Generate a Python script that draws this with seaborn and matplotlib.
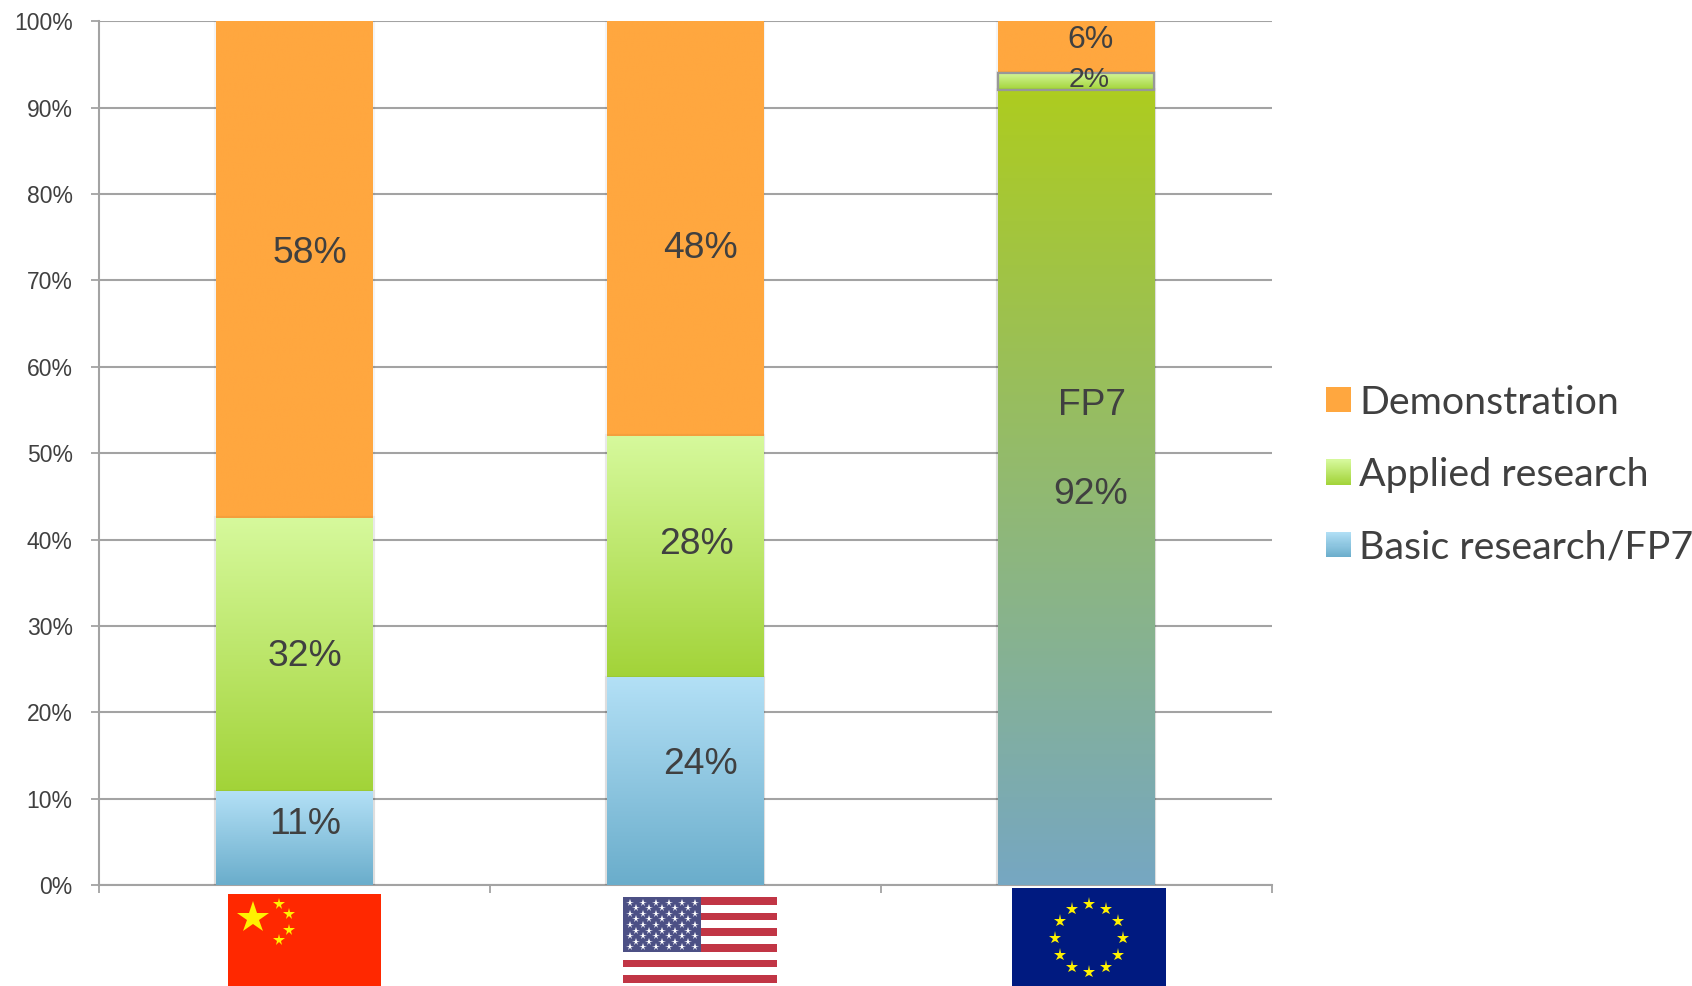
import numpy as np
import pandas as pd
import seaborn as sns
import matplotlib
matplotlib.use("Agg")
import matplotlib.pyplot as plt
import matplotlib.patheffects as pe
from matplotlib.colors import LinearSegmentedColormap, to_rgb
from matplotlib.legend_handler import HandlerBase
from matplotlib.patches import Patch, Rectangle

regions = ["China", "USA", "EU"]
basic = [10.8, 24, 92]
applied = [31.7, 28, 2]
demo = [57.5, 48, 6]
series_names = ["Basic research/FP7", "Applied research", "Demonstration"]
y_ticks = list(range(0, 101, 10))

label_texts = [["11%", "32%", "58%"], ["24%", "28%", "48%"], ["92%", "2%", "6%"]]
label_y = [[7.0, 26.5, 73.1], [13.9, 39.4, 73.75], [45.25, 93.2, 97.85]]
label_dx = [[0.027, 0.027, 0.04], [0.04, 0.03, 0.04], [0.038, 0.033, 0.038]]
label_size = [[26.8, 26.8, 26.8], [26.8, 26.8, 26.8], [26.8, 20.5, 23]]

ORANGE = ("#FFA73F", "#FFA73F")
GREEN = ("#D6F99C", "#A2D338")
BLUE = ("#B3E0F6", "#6AADCB")
EU_GRAD = ("#ADCC20", "#76A7C2")
GRAY = "#A3A3A3"
TXT = "#404040"
W, H = 1692, 986

sns.set_theme(style="white")
plt.rcParams["font.family"] = ["Liberation Sans", "DejaVu Sans"]

fig = plt.figure(figsize=(W / 100, H / 100), dpi=100, facecolor="white")
ax = fig.add_axes([99 / W, 1 - 885 / H, (1271.5 - 99) / W, (885 - 21.3) / H])

df = pd.DataFrame({"region": regions, "basic": basic, "applied": applied, "demo": demo})
df["t0"] = df["basic"]
df["t1"] = df["basic"] + df["applied"]
df["t2"] = df["t1"] + df["demo"]


def vgrad(top, bottom):
    return LinearSegmentedColormap.from_list("g", [bottom, top])


shadow = [pe.Stroke(linewidth=3.0, foreground="#000000", alpha=0.045), pe.Normal()]
layers = [("t2", "t1", ORANGE), ("t1", "t0", GREEN), ("t0", None, BLUE)]
z = 3
for top_col, low_col, grad in layers:
    before = len(ax.patches)
    sns.barplot(data=df, x="region", y=top_col, color=grad[1], width=0.4, saturation=1,
                ax=ax, zorder=z, linewidth=0)
    new = ax.patches[before:]
    for i, p in enumerate(new):
        p.set_path_effects(shadow)
        low = df[low_col].iloc[i] if low_col else 0
        g = grad
        if top_col == "t0" and regions[i] == "EU":
            g = EU_GRAD
        x0, x1 = p.get_x(), p.get_x() + p.get_width()
        ax.imshow(np.linspace(1, 0, 256)[:, None], cmap=vgrad(*g), aspect="auto",
                  extent=(x0, x1, low, p.get_height()), zorder=z + 1, interpolation="bilinear")
        if top_col == "t1" and regions[i] == "EU":
            ax.add_patch(Rectangle((x0, low), x1 - x0, p.get_height() - low, fill=False,
                                   edgecolor="#989898", linewidth=1.6, zorder=z + 8))
    z += 2

ax.set_xlim(-0.5, 2.5)
ax.set_ylim(0, 100)
ax.set_aspect("auto")
ax.set_xlabel("")
ax.set_ylabel("")
ax.set_yticks(y_ticks)
ax.set_yticklabels([f"{v}%" for v in y_ticks], fontsize=16.5, color=TXT)
ax.set_xticks([-0.5, 0.5, 1.5, 2.5])
ax.set_xticklabels([])
ax.tick_params(axis="both", length=6, width=1.3, color=GRAY, direction="out", left=True, bottom=True, pad=13)
ax.grid(axis="y", color=GRAY, linewidth=1.5, zorder=0)
ax.set_axisbelow(True)
for s in ["top", "right"]:
    ax.spines[s].set_visible(False)
for s in ["left", "bottom"]:
    ax.spines[s].set_color(GRAY)
    ax.spines[s].set_linewidth(1.5)
    ax.spines[s].set_zorder(20)
ax.spines["bottom"].set_zorder(2.5)

for i in range(3):
    for txt, y, dx, fs in zip(label_texts[i], label_y[i], label_dx[i], label_size[i]):
        ax.text(i + dx, y, txt, ha="center", va="center", fontsize=fs, color=TXT, zorder=30)
ax.text(2 + 0.04, 55.5, "FP7", ha="center", va="center", fontsize=26.8, color=TXT, zorder=30)


class GradHandler(HandlerBase):
    def create_artists(self, legend, orig, xd, yd, width, height, fontsize, trans):
        cols = orig.grad
        top, bot = np.array(to_rgb(cols[0])), np.array(to_rgb(cols[1]))
        out = []
        n = 24
        size = 18.0
        y0 = -yd + (height - size) / 2
        for k in range(n):
            f = (k + 0.5) / n
            c = bot * (1 - f) + top * f
            out.append(Rectangle((xd * -1, y0 + k * size / n), size, size / n + 0.3, facecolor=c,
                                 edgecolor="none", transform=trans))
        return out


handles = []
for name, g in zip(series_names[::-1], [ORANGE, GREEN, BLUE]):
    h = Patch(label=name)
    h.grad = g
    handles.append(h)
leg = fig.legend(handles=handles, loc="center left", bbox_to_anchor=(1326 / W, 1 - 475 / H),
                 bbox_transform=fig.transFigure, frameon=False,
                 prop={"family": ["Lato", "DejaVu Sans"], "size": 28.4},
                 handler_map={Patch: GradHandler()}, handlelength=0.634, handletextpad=0.2,
                 labelspacing=0.92, borderpad=0, borderaxespad=0, labelcolor=TXT)


def flag_ax(x0, y0, x1, y1, w, h):
    a = fig.add_axes([x0 / W, 1 - y1 / H, (x1 - x0) / W, (y1 - y0) / H])
    a.set_xlim(0, w)
    a.set_ylim(h, 0)
    a.axis("off")
    return a


# China
a = flag_ax(228, 894, 381, 986, 153, 92)
a.add_patch(Rectangle((0, 0), 153, 92, color="#FF2800", lw=0))
a.plot([25], [24], marker="*", color="#FFF200", ms=24, mew=0)
for x, y in [(51, 10), (61, 20), (61, 36), (51, 46)]:
    a.plot([x], [y], marker="*", color="#FFF200", ms=8.5, mew=0)

# USA
a = flag_ax(623, 897, 777, 983, 154, 86)
sh = 86 / 11
for k in range(11):
    col = "#C13545" if k % 2 == 0 else "white"
    a.add_patch(Rectangle((0, k * sh), 154, sh, color=col, lw=0))
a.add_patch(Rectangle((0, 0), 78, 7 * sh * 1.0, color="#4C5085", lw=0))
for r in range(9):
    n = 6 if r % 2 == 0 else 5
    for c in range(n):
        x = 6.5 + c * 13 + (0 if r % 2 == 0 else 6.5)
        y = 5.5 + r * 5.6
        a.plot([x], [y], marker="*", color="white", ms=5.5, mew=0)

# EU
a = flag_ax(1012, 888, 1166, 986, 154, 98)
a.add_patch(Rectangle((0, 0), 154, 98, color="#001A80", lw=0))
for k in range(12):
    t = np.deg2rad(30 * k)
    a.plot([77 + 34 * np.sin(t)], [50 - 34 * np.cos(t)], marker="*", color="#FFF200", ms=9.5, mew=0)

fig.savefig("out.png", dpi=100, facecolor="white")
